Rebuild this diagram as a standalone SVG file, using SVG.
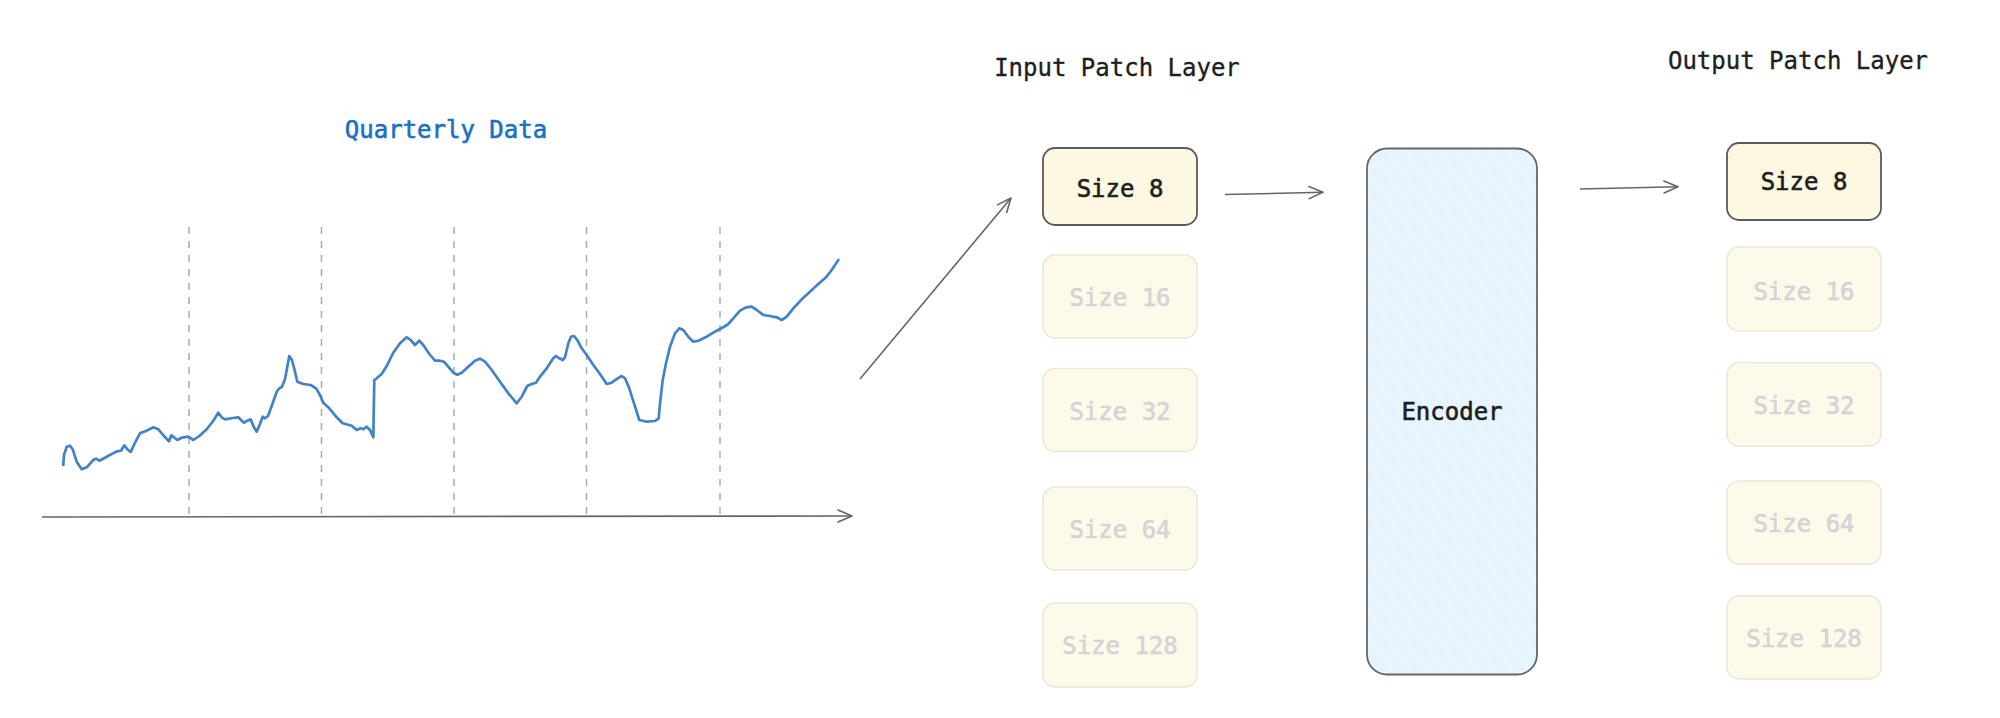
<svg xmlns="http://www.w3.org/2000/svg" width="2000" height="718" viewBox="0 0 2000 718">
<defs>
<style>
.t{font-family:"DejaVu Sans Mono","Liberation Mono",monospace;font-size:24px;fill:#1e1e1e;stroke:#1e1e1e;stroke-width:0.35;text-anchor:middle}
.on rect{fill:#fdf8e2;stroke:#5a5a5a;stroke-width:1.8}
.on text{stroke-width:0.6}
.off rect{fill:#fdfaea;stroke:#ebe7d8;stroke-width:1.6}
.off text{fill:#d4d4d4;stroke:#d4d4d4;stroke-width:0.6}
.conn{fill:none;stroke:#666;stroke-width:1.6;marker-end:url(#arr)}
.dash{stroke:#aaa;stroke-width:1.5;stroke-dasharray:7 7}
</style>
<marker id="arr" viewBox="0 0 16 14" refX="15" refY="7" markerWidth="16" markerHeight="14" markerUnits="userSpaceOnUse" orient="auto">
<path d="M1,1 L15,7 L1,13" fill="none" stroke="#666" stroke-width="1.6" stroke-linecap="round" stroke-linejoin="round"/>
</marker>
<pattern id="hach" patternUnits="userSpaceOnUse" width="14" height="14" patternTransform="rotate(-35)">
<rect width="14" height="14" fill="#e6f4fd"/>
<line x1="0" y1="0" x2="0" y2="14" stroke="#f4faff" stroke-width="1.5"/>
</pattern>
</defs>
<rect width="2000" height="718" fill="#ffffff"/>

<g id="chart">
<text x="446" y="138" class="t" style="fill:#1971c2;stroke:#1971c2;stroke-width:0.6">Quarterly Data</text>
<line class="dash" x1="189" y1="227" x2="189" y2="517"/>
<line class="dash" x1="321.5" y1="227" x2="321.5" y2="517"/>
<line class="dash" x1="454" y1="227" x2="454" y2="517"/>
<line class="dash" x1="586.5" y1="227" x2="586.5" y2="517"/>
<line class="dash" x1="720" y1="227" x2="720" y2="517"/>
<line class="conn" x1="42" y1="517" x2="852" y2="516"/>
<polyline fill="none" stroke="#4282c6" stroke-width="2.7" stroke-linejoin="round" stroke-linecap="round" points="63.3,465 64,455 66.7,446.7 70,445.7 72.7,449.3 76.7,461.7 81.7,469.3 86.7,467.3 93.3,460 96,458.7 99.3,460.7 105,457.7 111.7,454 117.3,451.3 121,450.7 124.3,445.3 127.3,449.3 130.7,452 135,442.7 140,433.3 146,431 153.3,427.3 158.3,429.3 164,436 169,441.3 171.3,435.3 174,437.3 177.3,440 181.7,437.7 188.3,436.7 193.3,440 199.3,436 206.7,429.3 213.3,420.7 218.3,412.7 221.7,417.3 225,419.3 232.7,418 238.3,417.3 241,420 244,422.7 247.3,420.7 250.7,419.3 253.3,426 256.7,431.7 260,424 262.7,416.7 265,418.3 268,416 271.7,406 276.7,391.7 279.3,388.3 281.7,387.3 285,379.3 287.3,366.7 289.3,356 292,360 295,371.7 297.3,381.7 303.3,384 310.7,385 316,388.3 320,395 323.3,402.7 329.3,408.3 336.7,417.3 342.7,423.3 351.7,425.7 356.7,430 360.7,428.3 363.3,429.3 366.7,426.7 370,430 373.3,437.3 374.3,380 376.7,378.3 381.7,374 386.7,366 393.3,352.7 400,343.3 406.7,337.3 410.7,340 415,345 419.3,340.7 423.3,345 429.3,354 435,360.7 440,360.7 444,361.7 448.3,366.7 453.3,372.7 457.3,374.7 461.7,372.7 468.3,366.7 475,360.7 480,358.7 485,361.7 491.7,370 500,381.7 508.3,393.3 516.7,403.3 521.7,396.7 527.3,386 531.7,384 536,382.7 540,376.7 546.7,368.3 553.3,358.3 556,356 559.3,358.3 562.7,360 565,357.3 568.3,343.3 571,336.7 574,336 577.3,340 581.7,348.3 586.7,355 593.3,365 600,374 606.7,384 611.7,382.7 617.3,378.7 621.7,376 625,378.3 629.3,388.3 634,403.3 639.3,420 646.7,421.7 655,421 658.7,418.3 660,403.3 662.7,380 666,363.3 670,346.7 675,333.3 679.3,328.3 683.3,330 688.3,336.7 693.3,341.7 698.3,340.7 706.7,336.7 716.7,330.7 723.3,327.3 728.3,324 733.3,318.3 740,310.7 746,307.3 751.7,306.7 756.7,310 763.3,315 770,316 776.7,317.3 781.7,320 786.7,316.7 793.3,308.3 801.7,299.3 810,291.7 818.3,284 826,277.3 831.7,270 838.3,260"/>
</g>

<g id="input-layer">
<text x="1117" y="76" class="t">Input Patch Layer</text>
<g id="in-8" class="on"><rect x="1043" y="148" width="154" height="77" rx="12"/><text x="1120" y="197" class="t">Size 8</text></g>
<g id="in-16" class="off"><rect x="1043" y="255" width="154" height="83" rx="12"/><text x="1120" y="306" class="t">Size 16</text></g>
<g id="in-32" class="off"><rect x="1043" y="368.5" width="154" height="83" rx="12"/><text x="1120" y="420" class="t">Size 32</text></g>
<g id="in-64" class="off"><rect x="1043" y="487" width="154" height="83" rx="12"/><text x="1120" y="538" class="t">Size 64</text></g>
<g id="in-128" class="off"><rect x="1043" y="603" width="154" height="84" rx="12"/><text x="1120" y="654" class="t">Size 128</text></g>
</g>

<g id="encoder">
<rect x="1367" y="148.5" width="170" height="526" rx="20" fill="url(#hach)" stroke="#666" stroke-width="1.8"/>
<text x="1452" y="420" class="t" style="stroke-width:0.6">Encoder</text>
</g>

<g id="output-layer">
<text x="1798" y="69" class="t">Output Patch Layer</text>
<g id="out-8" class="on"><rect x="1727" y="143" width="154" height="77" rx="12"/><text x="1804" y="190" class="t">Size 8</text></g>
<g id="out-16" class="off"><rect x="1727" y="247" width="154" height="84" rx="12"/><text x="1804" y="300" class="t">Size 16</text></g>
<g id="out-32" class="off"><rect x="1727" y="362.5" width="154" height="83.5" rx="12"/><text x="1804" y="414" class="t">Size 32</text></g>
<g id="out-64" class="off"><rect x="1727" y="481" width="154" height="83" rx="12"/><text x="1804" y="532" class="t">Size 64</text></g>
<g id="out-128" class="off"><rect x="1727" y="596" width="154" height="83" rx="12"/><text x="1804" y="647" class="t">Size 128</text></g>
</g>

<g id="connectors">
<line class="conn" x1="860" y1="379" x2="1011" y2="198"/>
<line class="conn" x1="1225" y1="194.5" x2="1323" y2="192.3"/>
<line class="conn" x1="1580" y1="189" x2="1678" y2="186.7"/>
</g>
</svg>
